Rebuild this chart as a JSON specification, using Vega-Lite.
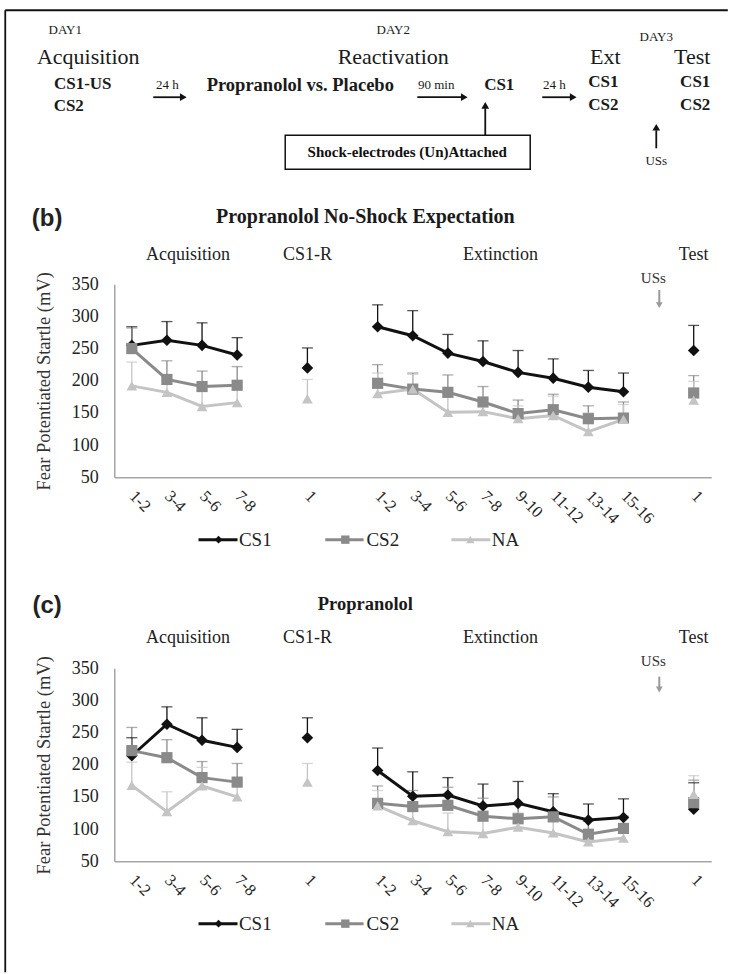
{
  "$schema": "https://vega.github.io/schema/vega-lite/v6.json",
  "background": "white",
  "padding": {"left": 4.25, "top": 9.25, "right": 0, "bottom": 0},
  "bounds": "flush",
  "spacing": 191,
  "config": {
    "font": "Liberation Serif",
    "view": {"stroke": null},
    "axis": {"grid": false, "ticks": false, "domainColor": "#a6a6a6", "domainWidth": 1.5, "labelFont": "Liberation Serif", "labelColor": "#222222", "titleFont": "Liberation Serif", "titleFontWeight": "normal", "titleColor": "#333333"},
    "axisY": {"labelOverlap": false, "labelSeparation": 0}
  },
  "datasets": {
    "fps": [
      {"panel":"b","phase":"Acquisition","cond":"Acquisition 1-2","series":"CS1","mean":255,"upper":284},
      {"panel":"b","phase":"Acquisition","cond":"Acquisition 3-4","series":"CS1","mean":263,"upper":292},
      {"panel":"b","phase":"Acquisition","cond":"Acquisition 5-6","series":"CS1","mean":255,"upper":290},
      {"panel":"b","phase":"Acquisition","cond":"Acquisition 7-8","series":"CS1","mean":240,"upper":267},
      {"panel":"b","phase":"CS1-R","cond":"CS1-R 1","series":"CS1","mean":220,"upper":251},
      {"panel":"b","phase":"Extinction","cond":"Extinction 1-2","series":"CS1","mean":284,"upper":318},
      {"panel":"b","phase":"Extinction","cond":"Extinction 3-4","series":"CS1","mean":270,"upper":309},
      {"panel":"b","phase":"Extinction","cond":"Extinction 5-6","series":"CS1","mean":243,"upper":272},
      {"panel":"b","phase":"Extinction","cond":"Extinction 7-8","series":"CS1","mean":230,"upper":262},
      {"panel":"b","phase":"Extinction","cond":"Extinction 9-10","series":"CS1","mean":213,"upper":247},
      {"panel":"b","phase":"Extinction","cond":"Extinction 11-12","series":"CS1","mean":204,"upper":234},
      {"panel":"b","phase":"Extinction","cond":"Extinction 13-14","series":"CS1","mean":190,"upper":216},
      {"panel":"b","phase":"Extinction","cond":"Extinction 15-16","series":"CS1","mean":183,"upper":212},
      {"panel":"b","phase":"Test","cond":"Test 1","series":"CS1","mean":247,"upper":286},
      {"panel":"b","phase":"Acquisition","cond":"Acquisition 1-2","series":"CS2","mean":250,"upper":282},
      {"panel":"b","phase":"Acquisition","cond":"Acquisition 3-4","series":"CS2","mean":202,"upper":231},
      {"panel":"b","phase":"Acquisition","cond":"Acquisition 5-6","series":"CS2","mean":191,"upper":215},
      {"panel":"b","phase":"Acquisition","cond":"Acquisition 7-8","series":"CS2","mean":193,"upper":222},
      {"panel":"b","phase":"Extinction","cond":"Extinction 1-2","series":"CS2","mean":196,"upper":225},
      {"panel":"b","phase":"Extinction","cond":"Extinction 3-4","series":"CS2","mean":187,"upper":212},
      {"panel":"b","phase":"Extinction","cond":"Extinction 5-6","series":"CS2","mean":182,"upper":209},
      {"panel":"b","phase":"Extinction","cond":"Extinction 7-8","series":"CS2","mean":167,"upper":191},
      {"panel":"b","phase":"Extinction","cond":"Extinction 9-10","series":"CS2","mean":149,"upper":170},
      {"panel":"b","phase":"Extinction","cond":"Extinction 11-12","series":"CS2","mean":155,"upper":179},
      {"panel":"b","phase":"Extinction","cond":"Extinction 13-14","series":"CS2","mean":141,"upper":161},
      {"panel":"b","phase":"Extinction","cond":"Extinction 15-16","series":"CS2","mean":142,"upper":167},
      {"panel":"b","phase":"Test","cond":"Test 1","series":"CS2","mean":181,"upper":208},
      {"panel":"b","phase":"Acquisition","cond":"Acquisition 1-2","series":"NA","mean":192,"upper":229},
      {"panel":"b","phase":"Acquisition","cond":"Acquisition 3-4","series":"NA","mean":182,"upper":200},
      {"panel":"b","phase":"Acquisition","cond":"Acquisition 5-6","series":"NA","mean":160,"upper":185},
      {"panel":"b","phase":"Acquisition","cond":"Acquisition 7-8","series":"NA","mean":166,"upper":190},
      {"panel":"b","phase":"CS1-R","cond":"CS1-R 1","series":"NA","mean":172,"upper":202},
      {"panel":"b","phase":"Extinction","cond":"Extinction 1-2","series":"NA","mean":180,"upper":212},
      {"panel":"b","phase":"Extinction","cond":"Extinction 3-4","series":"NA","mean":187,"upper":210},
      {"panel":"b","phase":"Extinction","cond":"Extinction 5-6","series":"NA","mean":151,"upper":175},
      {"panel":"b","phase":"Extinction","cond":"Extinction 7-8","series":"NA","mean":152,"upper":172},
      {"panel":"b","phase":"Extinction","cond":"Extinction 9-10","series":"NA","mean":141,"upper":161},
      {"panel":"b","phase":"Extinction","cond":"Extinction 11-12","series":"NA","mean":146,"upper":176},
      {"panel":"b","phase":"Extinction","cond":"Extinction 13-14","series":"NA","mean":121,"upper":150},
      {"panel":"b","phase":"Extinction","cond":"Extinction 15-16","series":"NA","mean":140,"upper":163},
      {"panel":"b","phase":"Test","cond":"Test 1","series":"NA","mean":170,"upper":199},
      {"panel":"c","phase":"Acquisition","cond":"Acquisition 1-2","series":"CS1","mean":214,"upper":242},
      {"panel":"c","phase":"Acquisition","cond":"Acquisition 3-4","series":"CS1","mean":263,"upper":290},
      {"panel":"c","phase":"Acquisition","cond":"Acquisition 5-6","series":"CS1","mean":238,"upper":273},
      {"panel":"c","phase":"Acquisition","cond":"Acquisition 7-8","series":"CS1","mean":227,"upper":255},
      {"panel":"c","phase":"CS1-R","cond":"CS1-R 1","series":"CS1","mean":242,"upper":273},
      {"panel":"c","phase":"Extinction","cond":"Extinction 1-2","series":"CS1","mean":191,"upper":226},
      {"panel":"c","phase":"Extinction","cond":"Extinction 3-4","series":"CS1","mean":151,"upper":189},
      {"panel":"c","phase":"Extinction","cond":"Extinction 5-6","series":"CS1","mean":153,"upper":180},
      {"panel":"c","phase":"Extinction","cond":"Extinction 7-8","series":"CS1","mean":136,"upper":170},
      {"panel":"c","phase":"Extinction","cond":"Extinction 9-10","series":"CS1","mean":140,"upper":174},
      {"panel":"c","phase":"Extinction","cond":"Extinction 11-12","series":"CS1","mean":127,"upper":155},
      {"panel":"c","phase":"Extinction","cond":"Extinction 13-14","series":"CS1","mean":114,"upper":139},
      {"panel":"c","phase":"Extinction","cond":"Extinction 15-16","series":"CS1","mean":118,"upper":147},
      {"panel":"c","phase":"Test","cond":"Test 1","series":"CS1","mean":131,"upper":172},
      {"panel":"c","phase":"Acquisition","cond":"Acquisition 1-2","series":"CS2","mean":222,"upper":258},
      {"panel":"c","phase":"Acquisition","cond":"Acquisition 3-4","series":"CS2","mean":211,"upper":239},
      {"panel":"c","phase":"Acquisition","cond":"Acquisition 5-6","series":"CS2","mean":180,"upper":205},
      {"panel":"c","phase":"Acquisition","cond":"Acquisition 7-8","series":"CS2","mean":173,"upper":202},
      {"panel":"c","phase":"Extinction","cond":"Extinction 1-2","series":"CS2","mean":140,"upper":167},
      {"panel":"c","phase":"Extinction","cond":"Extinction 3-4","series":"CS2","mean":135,"upper":160},
      {"panel":"c","phase":"Extinction","cond":"Extinction 5-6","series":"CS2","mean":137,"upper":165},
      {"panel":"c","phase":"Extinction","cond":"Extinction 7-8","series":"CS2","mean":120,"upper":148},
      {"panel":"c","phase":"Extinction","cond":"Extinction 9-10","series":"CS2","mean":116,"upper":140},
      {"panel":"c","phase":"Extinction","cond":"Extinction 11-12","series":"CS2","mean":119,"upper":150},
      {"panel":"c","phase":"Extinction","cond":"Extinction 13-14","series":"CS2","mean":92,"upper":112},
      {"panel":"c","phase":"Extinction","cond":"Extinction 15-16","series":"CS2","mean":101,"upper":120},
      {"panel":"c","phase":"Test","cond":"Test 1","series":"CS2","mean":141,"upper":176},
      {"panel":"c","phase":"Acquisition","cond":"Acquisition 1-2","series":"NA","mean":168,"upper":204},
      {"panel":"c","phase":"Acquisition","cond":"Acquisition 3-4","series":"NA","mean":127,"upper":158},
      {"panel":"c","phase":"Acquisition","cond":"Acquisition 5-6","series":"NA","mean":167,"upper":196},
      {"panel":"c","phase":"Acquisition","cond":"Acquisition 7-8","series":"NA","mean":150,"upper":175},
      {"panel":"c","phase":"CS1-R","cond":"CS1-R 1","series":"NA","mean":173,"upper":202},
      {"panel":"c","phase":"Extinction","cond":"Extinction 1-2","series":"NA","mean":136,"upper":160},
      {"panel":"c","phase":"Extinction","cond":"Extinction 3-4","series":"NA","mean":113,"upper":130},
      {"panel":"c","phase":"Extinction","cond":"Extinction 5-6","series":"NA","mean":96,"upper":125},
      {"panel":"c","phase":"Extinction","cond":"Extinction 7-8","series":"NA","mean":93,"upper":115},
      {"panel":"c","phase":"Extinction","cond":"Extinction 9-10","series":"NA","mean":103,"upper":125},
      {"panel":"c","phase":"Extinction","cond":"Extinction 11-12","series":"NA","mean":94,"upper":115},
      {"panel":"c","phase":"Extinction","cond":"Extinction 13-14","series":"NA","mean":80,"upper":95},
      {"panel":"c","phase":"Extinction","cond":"Extinction 15-16","series":"NA","mean":86,"upper":100},
      {"panel":"c","phase":"Test","cond":"Test 1","series":"NA","mean":154,"upper":183}
    ],
    "diagBig": [
      {"t":"Acquisition","x":11.46,"y":4.89},
      {"t":"Reactivation","x":53.59,"y":4.89},
      {"t":"Ext","x":82.87,"y":4.89},
      {"t":"Test","x":94.89,"y":4.89}
    ],
    "diagSmall": [
      {"t":"DAY1","x":8.29,"y":2.08},
      {"t":"DAY2","x":53.59,"y":2.08},
      {"t":"DAY3","x":89.92,"y":2.81},
      {"t":"24 h","x":22.38,"y":7.8},
      {"t":"90 min","x":59.53,"y":7.8},
      {"t":"24 h","x":75.83,"y":7.8},
      {"t":"USs","x":89.92,"y":15.7}
    ],
    "diagBold": [
      {"t":"CS1-US","x":10.7,"y":7.69},
      {"t":"CS2","x":8.77,"y":9.98},
      {"t":"CS1","x":68.23,"y":7.8},
      {"t":"CS1","x":82.6,"y":7.48},
      {"t":"CS2","x":82.6,"y":9.88},
      {"t":"CS1","x":95.3,"y":7.48},
      {"t":"CS2","x":95.3,"y":9.88}
    ],
    "diagBoldWide": [
      {"t":"Propranolol vs. Placebo","x":40.75,"y":7.8}
    ],
    "diagBox": [
      {"t":"Shock-electrodes (Un)Attached","x":55.52,"y":14.76,"x1":38.67,"x2":72.51,"y1":12.99,"y2":16.53}
    ],
    "diagLines": [
      {"x":0,"x2":99.8,"y":0,"y2":0},
      {"x":0,"x2":0,"y":0,"y2":100},
      {"x":20.44,"x2":24.31,"y":9.04,"y2":9.04},
      {"x":56.91,"x2":62.98,"y":9.04,"y2":9.04},
      {"x":74.17,"x2":78.04,"y":9.04,"y2":9.04},
      {"x":66.3,"x2":66.3,"y":12.99,"y2":10.19},
      {"x":89.92,"x2":89.92,"y":14.35,"y2":12.47}
    ],
    "diagHeadsRight": [
      {"x":24.59,"y":9.04},
      {"x":63.4,"y":9.04},
      {"x":78.45,"y":9.04}
    ],
    "diagHeadsUp": [
      {"x":66.3,"y":9.88},
      {"x":89.92,"y":12.16}
    ]
  },
  "vconcat": [
    {
      "width": 597,
      "height": 83,
      "layer": [
        {
          "data": {"name": "diagLines"},
          "mark": {"type": "rule", "color": "#111111", "strokeWidth": 1.8},
          "encoding": {
            "x": {"field": "x", "type": "quantitative", "scale": {"domain": [0, 100], "range": [-109, 615], "nice": false, "zero": false}, "axis": null},
            "x2": {"field": "x2"},
            "y": {"field": "y", "type": "quantitative", "scale": {"domain": [0, 100], "range": [0, 962], "nice": false, "zero": false}, "axis": null},
            "y2": {"field": "y2"}
          }
        },
        {
          "data": {"name": "diagBox"},
          "mark": {"type": "rect", "fill": null, "fillOpacity": 0, "stroke": "#111111", "strokeWidth": 1.5},
          "encoding": {
            "x": {"field": "x1", "type": "quantitative", "scale": {"domain": [0, 100], "range": [-109, 615], "nice": false, "zero": false}, "axis": null},
            "x2": {"field": "x2"},
            "y": {"field": "y1", "type": "quantitative", "scale": {"domain": [0, 100], "range": [0, 962], "nice": false, "zero": false}, "axis": null},
            "y2": {"field": "y2"}
          }
        },
        {
          "data": {"name": "diagBox"},
          "mark": {"type": "text", "font": "Liberation Serif", "fontWeight": "bold", "fontSize": 15, "color": "#111111", "baseline": "middle"},
          "encoding": {
            "x": {"field": "x", "type": "quantitative", "scale": {"domain": [0, 100], "range": [-109, 615], "nice": false, "zero": false}, "axis": null},
            "y": {"field": "y", "type": "quantitative", "scale": {"domain": [0, 100], "range": [0, 962], "nice": false, "zero": false}, "axis": null},
            "text": {"field": "t"}
          }
        },
        {
          "data": {"name": "diagHeadsRight"},
          "mark": {"type": "point", "shape": "triangle-right", "filled": true, "color": "#111111", "size": 60, "opacity": 1},
          "encoding": {
            "x": {"field": "x", "type": "quantitative", "scale": {"domain": [0, 100], "range": [-109, 615], "nice": false, "zero": false}, "axis": null},
            "y": {"field": "y", "type": "quantitative", "scale": {"domain": [0, 100], "range": [0, 962], "nice": false, "zero": false}, "axis": null}
          }
        },
        {
          "data": {"name": "diagHeadsUp"},
          "mark": {"type": "point", "shape": "triangle-up", "filled": true, "color": "#111111", "size": 60, "opacity": 1},
          "encoding": {
            "x": {"field": "x", "type": "quantitative", "scale": {"domain": [0, 100], "range": [-109, 615], "nice": false, "zero": false}, "axis": null},
            "y": {"field": "y", "type": "quantitative", "scale": {"domain": [0, 100], "range": [0, 962], "nice": false, "zero": false}, "axis": null}
          }
        },
        {
          "data": {"name": "diagBig"},
          "mark": {"type": "text", "font": "Liberation Serif", "fontSize": 22, "color": "#1a1a1a", "baseline": "middle"},
          "encoding": {
            "x": {"field": "x", "type": "quantitative", "scale": {"domain": [0, 100], "range": [-109, 615], "nice": false, "zero": false}, "axis": null},
            "y": {"field": "y", "type": "quantitative", "scale": {"domain": [0, 100], "range": [0, 962], "nice": false, "zero": false}, "axis": null},
            "text": {"field": "t"}
          }
        },
        {
          "data": {"name": "diagSmall"},
          "mark": {"type": "text", "font": "Liberation Serif", "fontSize": 13, "color": "#1a1a1a", "baseline": "middle"},
          "encoding": {
            "x": {"field": "x", "type": "quantitative", "scale": {"domain": [0, 100], "range": [-109, 615], "nice": false, "zero": false}, "axis": null},
            "y": {"field": "y", "type": "quantitative", "scale": {"domain": [0, 100], "range": [0, 962], "nice": false, "zero": false}, "axis": null},
            "text": {"field": "t"}
          }
        },
        {
          "data": {"name": "diagBold"},
          "mark": {"type": "text", "font": "Liberation Serif", "fontWeight": "bold", "fontSize": 17, "color": "#1a1a1a", "baseline": "middle"},
          "encoding": {
            "x": {"field": "x", "type": "quantitative", "scale": {"domain": [0, 100], "range": [-109, 615], "nice": false, "zero": false}, "axis": null},
            "y": {"field": "y", "type": "quantitative", "scale": {"domain": [0, 100], "range": [0, 962], "nice": false, "zero": false}, "axis": null},
            "text": {"field": "t"}
          }
        },
        {
          "data": {"name": "diagBoldWide"},
          "mark": {"type": "text", "font": "Liberation Serif", "fontWeight": "bold", "fontSize": 18.5, "color": "#1a1a1a", "baseline": "middle"},
          "encoding": {
            "x": {"field": "x", "type": "quantitative", "scale": {"domain": [0, 100], "range": [-109, 615], "nice": false, "zero": false}, "axis": null},
            "y": {"field": "y", "type": "quantitative", "scale": {"domain": [0, 100], "range": [0, 962], "nice": false, "zero": false}, "axis": null},
            "text": {"field": "t"}
          }
        }
      ]
    },
    {
      "width": 597,
      "height": 193,
      "layer": [
        {
          "data": {"name": "fps"},
          "transform": [{"filter": "datum.panel === 'b'"}],
          "encoding": {
            "x": {"field": "cond", "type": "ordinal", "sort": ["Acquisition 1-2","Acquisition 3-4","Acquisition 5-6","Acquisition 7-8","gap1","CS1-R 1","gap2","Extinction 1-2","Extinction 3-4","Extinction 5-6","Extinction 7-8","Extinction 9-10","Extinction 11-12","Extinction 13-14","Extinction 15-16","gap3","Test 1"],
              "scale": {"type": "point", "padding": 0.5, "domain": ["Acquisition 1-2","Acquisition 3-4","Acquisition 5-6","Acquisition 7-8","gap1","CS1-R 1","gap2","Extinction 1-2","Extinction 3-4","Extinction 5-6","Extinction 7-8","Extinction 9-10","Extinction 11-12","Extinction 13-14","Extinction 15-16","gap3","Test 1"]},
              "axis": {"values": ["Acquisition 1-2","Acquisition 3-4","Acquisition 5-6","Acquisition 7-8","CS1-R 1","Extinction 1-2","Extinction 3-4","Extinction 5-6","Extinction 7-8","Extinction 9-10","Extinction 11-12","Extinction 13-14","Extinction 15-16","Test 1"], "labelExpr": "split(datum.label, ' ')[1]", "labelAngle": 45, "labelAlign": "left", "labelBaseline": "middle", "labelFontSize": 16.5, "labelPadding": 16, "labelOverlap": false, "title": null}},
            "color": {"field": "series", "type": "nominal", "scale": {"domain": ["CS1","CS2","NA"], "range": ["#111111","#8a8a8a","#c4c4c4"]}, "legend": null}
          },
          "layer": [
            {"mark": {"type": "rule", "strokeWidth": 1.3},
             "encoding": {"y": {"field": "mean", "type": "quantitative", "scale": {"domain": [50, 350], "nice": false, "zero": false}, "axis": {"values": [50,100,150,200,250,300,350], "tickCount": 7, "labelOverlap": false, "title": "Fear Potentiated Startle (mV)", "titleFontSize": 18.5, "titlePadding": 18, "labelFontSize": 18, "labelPadding": 16}}, "y2": {"field": "upper"}}},
            {"mark": {"type": "tick", "thickness": 1.3, "size": 11},
             "encoding": {"y": {"field": "upper", "type": "quantitative", "scale": {"domain": [50, 350], "nice": false, "zero": false}, "axis": {"values": [50,100,150,200,250,300,350], "tickCount": 7, "labelOverlap": false, "title": "Fear Potentiated Startle (mV)", "titleFontSize": 18.5, "titlePadding": 18, "labelFontSize": 18, "labelPadding": 16}}}},
            {"mark": {"type": "line", "strokeWidth": 3},
             "encoding": {"y": {"field": "mean", "type": "quantitative", "scale": {"domain": [50, 350], "nice": false, "zero": false}, "axis": {"values": [50,100,150,200,250,300,350], "tickCount": 7, "labelOverlap": false, "title": "Fear Potentiated Startle (mV)", "titleFontSize": 18.5, "titlePadding": 18, "labelFontSize": 18, "labelPadding": 16}}, "detail": {"field": "phase", "type": "nominal"}}},
            {"mark": {"type": "point", "filled": true, "opacity": 1},
             "encoding": {"y": {"field": "mean", "type": "quantitative", "scale": {"domain": [50, 350], "nice": false, "zero": false}, "axis": {"values": [50,100,150,200,250,300,350], "tickCount": 7, "labelOverlap": false, "title": "Fear Potentiated Startle (mV)", "titleFontSize": 18.5, "titlePadding": 18, "labelFontSize": 18, "labelPadding": 16}},
               "shape": {"field": "series", "type": "nominal", "scale": {"domain": ["CS1","CS2","NA"], "range": ["diamond","square","triangle-up"]}, "legend": null},
               "size": {"field": "series", "type": "nominal", "scale": {"domain": ["CS1","CS2","NA"], "range": [135, 115, 130]}, "legend": null}}}
          ]
        },
        {
          "data": {"values": [{}]},
          "layer": [
            {"mark": {"type": "text", "text": "(b)", "font": "Liberation Sans", "fontWeight": "bold", "fontSize": 24, "color": "#222222", "baseline": "middle"},
             "encoding": {"x": {"datum": -2.41, "type": "quantitative", "scale": {"domain": [-0.5, 16.5], "nice": false, "zero": false}, "axis": null}, "y": {"datum": 451, "type": "quantitative", "scale": {"domain": [50, 350], "nice": false, "zero": false}, "axis": null}}},
            {"mark": {"type": "text", "text": "Propranolol No-Shock Expectation", "fontWeight": "bold", "fontSize": 20, "color": "#1a1a1a", "baseline": "middle"},
             "encoding": {"x": {"datum": 6.65, "type": "quantitative", "scale": {"domain": [-0.5, 16.5], "nice": false, "zero": false}, "axis": null}, "y": {"datum": 454.6, "type": "quantitative", "scale": {"domain": [50, 350], "nice": false, "zero": false}, "axis": null}}},
            {"mark": {"type": "text", "text": "Acquisition", "fontSize": 18, "color": "#222222", "baseline": "middle"},
             "encoding": {"x": {"datum": 1.6, "type": "quantitative", "scale": {"domain": [-0.5, 16.5], "nice": false, "zero": false}, "axis": null}, "y": {"datum": 395, "type": "quantitative", "scale": {"domain": [50, 350], "nice": false, "zero": false}, "axis": null}}},
            {"mark": {"type": "text", "text": "CS1-R", "fontSize": 18, "color": "#222222", "baseline": "middle"},
             "encoding": {"x": {"datum": 5, "type": "quantitative", "scale": {"domain": [-0.5, 16.5], "nice": false, "zero": false}, "axis": null}, "y": {"datum": 395, "type": "quantitative", "scale": {"domain": [50, 350], "nice": false, "zero": false}, "axis": null}}},
            {"mark": {"type": "text", "text": "Extinction", "fontSize": 18, "color": "#222222", "baseline": "middle"},
             "encoding": {"x": {"datum": 10.5, "type": "quantitative", "scale": {"domain": [-0.5, 16.5], "nice": false, "zero": false}, "axis": null}, "y": {"datum": 395, "type": "quantitative", "scale": {"domain": [50, 350], "nice": false, "zero": false}, "axis": null}}},
            {"mark": {"type": "text", "text": "Test", "fontSize": 18, "color": "#222222", "baseline": "middle"},
             "encoding": {"x": {"datum": 16, "type": "quantitative", "scale": {"domain": [-0.5, 16.5], "nice": false, "zero": false}, "axis": null}, "y": {"datum": 395, "type": "quantitative", "scale": {"domain": [50, 350], "nice": false, "zero": false}, "axis": null}}},
            {"mark": {"type": "text", "text": "USs", "fontSize": 15, "color": "#333333", "baseline": "middle"},
             "encoding": {"x": {"datum": 14.85, "type": "quantitative", "scale": {"domain": [-0.5, 16.5], "nice": false, "zero": false}, "axis": null}, "y": {"datum": 359, "type": "quantitative", "scale": {"domain": [50, 350], "nice": false, "zero": false}, "axis": null}}},
            {"mark": {"type": "rule", "color": "#9a9a9a", "strokeWidth": 2},
             "encoding": {"x": {"datum": 15.02, "type": "quantitative", "scale": {"domain": [-0.5, 16.5], "nice": false, "zero": false}, "axis": null}, "y": {"datum": 341, "type": "quantitative", "scale": {"domain": [50, 350], "nice": false, "zero": false}, "axis": null}, "y2": {"datum": 320}}},
            {"mark": {"type": "point", "shape": "triangle-down", "filled": true, "color": "#9a9a9a", "size": 45, "opacity": 1},
             "encoding": {"x": {"datum": 15.02, "type": "quantitative", "scale": {"domain": [-0.5, 16.5], "nice": false, "zero": false}, "axis": null}, "y": {"datum": 317.5, "type": "quantitative", "scale": {"domain": [50, 350], "nice": false, "zero": false}, "axis": null}}},
            {"mark": {"type": "rule", "color": "#111111", "strokeWidth": 3},
             "encoding": {"x": {"datum": 1.9, "type": "quantitative", "scale": {"domain": [-0.5, 16.5], "nice": false, "zero": false}, "axis": null}, "x2": {"datum": 3.01}, "y": {"datum": -47, "type": "quantitative", "scale": {"domain": [50, 350], "nice": false, "zero": false}, "axis": null}}},
            {"mark": {"type": "point", "shape": "diamond", "filled": true, "color": "#111111", "size": 60, "opacity": 1},
             "encoding": {"x": {"datum": 2.47, "type": "quantitative", "scale": {"domain": [-0.5, 16.5], "nice": false, "zero": false}, "axis": null}, "y": {"datum": -47, "type": "quantitative", "scale": {"domain": [50, 350], "nice": false, "zero": false}, "axis": null}}},
            {"mark": {"type": "text", "text": "CS1", "fontSize": 19, "color": "#222222", "align": "left", "baseline": "middle"},
             "encoding": {"x": {"datum": 3.05, "type": "quantitative", "scale": {"domain": [-0.5, 16.5], "nice": false, "zero": false}, "axis": null}, "y": {"datum": -47, "type": "quantitative", "scale": {"domain": [50, 350], "nice": false, "zero": false}, "axis": null}}},
            {"mark": {"type": "rule", "color": "#8a8a8a", "strokeWidth": 3},
             "encoding": {"x": {"datum": 5.51, "type": "quantitative", "scale": {"domain": [-0.5, 16.5], "nice": false, "zero": false}, "axis": null}, "x2": {"datum": 6.6}, "y": {"datum": -47, "type": "quantitative", "scale": {"domain": [50, 350], "nice": false, "zero": false}, "axis": null}}},
            {"mark": {"type": "point", "shape": "square", "filled": true, "color": "#8a8a8a", "size": 70, "opacity": 1},
             "encoding": {"x": {"datum": 6.08, "type": "quantitative", "scale": {"domain": [-0.5, 16.5], "nice": false, "zero": false}, "axis": null}, "y": {"datum": -47, "type": "quantitative", "scale": {"domain": [50, 350], "nice": false, "zero": false}, "axis": null}}},
            {"mark": {"type": "text", "text": "CS2", "fontSize": 19, "color": "#222222", "align": "left", "baseline": "middle"},
             "encoding": {"x": {"datum": 6.68, "type": "quantitative", "scale": {"domain": [-0.5, 16.5], "nice": false, "zero": false}, "axis": null}, "y": {"datum": -47, "type": "quantitative", "scale": {"domain": [50, 350], "nice": false, "zero": false}, "axis": null}}},
            {"mark": {"type": "rule", "color": "#c4c4c4", "strokeWidth": 3},
             "encoding": {"x": {"datum": 9.1, "type": "quantitative", "scale": {"domain": [-0.5, 16.5], "nice": false, "zero": false}, "axis": null}, "x2": {"datum": 10.21}, "y": {"datum": -47, "type": "quantitative", "scale": {"domain": [50, 350], "nice": false, "zero": false}, "axis": null}}},
            {"mark": {"type": "point", "shape": "triangle-up", "filled": true, "color": "#c4c4c4", "size": 70, "opacity": 1},
             "encoding": {"x": {"datum": 9.64, "type": "quantitative", "scale": {"domain": [-0.5, 16.5], "nice": false, "zero": false}, "axis": null}, "y": {"datum": -47, "type": "quantitative", "scale": {"domain": [50, 350], "nice": false, "zero": false}, "axis": null}}},
            {"mark": {"type": "text", "text": "NA", "fontSize": 19, "color": "#222222", "align": "left", "baseline": "middle"},
             "encoding": {"x": {"datum": 10.25, "type": "quantitative", "scale": {"domain": [-0.5, 16.5], "nice": false, "zero": false}, "axis": null}, "y": {"datum": -47, "type": "quantitative", "scale": {"domain": [50, 350], "nice": false, "zero": false}, "axis": null}}}
          ]
        }
      ],
      "resolve": {"scale": {"x": "independent"}, "axis": {"x": "independent", "y": "independent"}}
    },
    {
      "width": 597,
      "height": 193,
      "layer": [
        {
          "data": {"name": "fps"},
          "transform": [{"filter": "datum.panel === 'c'"}],
          "encoding": {
            "x": {"field": "cond", "type": "ordinal", "sort": ["Acquisition 1-2","Acquisition 3-4","Acquisition 5-6","Acquisition 7-8","gap1","CS1-R 1","gap2","Extinction 1-2","Extinction 3-4","Extinction 5-6","Extinction 7-8","Extinction 9-10","Extinction 11-12","Extinction 13-14","Extinction 15-16","gap3","Test 1"],
              "scale": {"type": "point", "padding": 0.5, "domain": ["Acquisition 1-2","Acquisition 3-4","Acquisition 5-6","Acquisition 7-8","gap1","CS1-R 1","gap2","Extinction 1-2","Extinction 3-4","Extinction 5-6","Extinction 7-8","Extinction 9-10","Extinction 11-12","Extinction 13-14","Extinction 15-16","gap3","Test 1"]},
              "axis": {"values": ["Acquisition 1-2","Acquisition 3-4","Acquisition 5-6","Acquisition 7-8","CS1-R 1","Extinction 1-2","Extinction 3-4","Extinction 5-6","Extinction 7-8","Extinction 9-10","Extinction 11-12","Extinction 13-14","Extinction 15-16","Test 1"], "labelExpr": "split(datum.label, ' ')[1]", "labelAngle": 45, "labelAlign": "left", "labelBaseline": "middle", "labelFontSize": 16.5, "labelPadding": 16, "labelOverlap": false, "title": null}},
            "color": {"field": "series", "type": "nominal", "scale": {"domain": ["CS1","CS2","NA"], "range": ["#111111","#8a8a8a","#c4c4c4"]}, "legend": null}
          },
          "layer": [
            {"mark": {"type": "rule", "strokeWidth": 1.3},
             "encoding": {"y": {"field": "mean", "type": "quantitative", "scale": {"domain": [50, 350], "nice": false, "zero": false}, "axis": {"values": [50,100,150,200,250,300,350], "tickCount": 7, "labelOverlap": false, "title": "Fear Potentiated Startle (mV)", "titleFontSize": 18.5, "titlePadding": 18, "labelFontSize": 18, "labelPadding": 16}}, "y2": {"field": "upper"}}},
            {"mark": {"type": "tick", "thickness": 1.3, "size": 11},
             "encoding": {"y": {"field": "upper", "type": "quantitative", "scale": {"domain": [50, 350], "nice": false, "zero": false}, "axis": {"values": [50,100,150,200,250,300,350], "tickCount": 7, "labelOverlap": false, "title": "Fear Potentiated Startle (mV)", "titleFontSize": 18.5, "titlePadding": 18, "labelFontSize": 18, "labelPadding": 16}}}},
            {"mark": {"type": "line", "strokeWidth": 3},
             "encoding": {"y": {"field": "mean", "type": "quantitative", "scale": {"domain": [50, 350], "nice": false, "zero": false}, "axis": {"values": [50,100,150,200,250,300,350], "tickCount": 7, "labelOverlap": false, "title": "Fear Potentiated Startle (mV)", "titleFontSize": 18.5, "titlePadding": 18, "labelFontSize": 18, "labelPadding": 16}}, "detail": {"field": "phase", "type": "nominal"}}},
            {"mark": {"type": "point", "filled": true, "opacity": 1},
             "encoding": {"y": {"field": "mean", "type": "quantitative", "scale": {"domain": [50, 350], "nice": false, "zero": false}, "axis": {"values": [50,100,150,200,250,300,350], "tickCount": 7, "labelOverlap": false, "title": "Fear Potentiated Startle (mV)", "titleFontSize": 18.5, "titlePadding": 18, "labelFontSize": 18, "labelPadding": 16}},
               "shape": {"field": "series", "type": "nominal", "scale": {"domain": ["CS1","CS2","NA"], "range": ["diamond","square","triangle-up"]}, "legend": null},
               "size": {"field": "series", "type": "nominal", "scale": {"domain": ["CS1","CS2","NA"], "range": [135, 115, 130]}, "legend": null}}}
          ]
        },
        {
          "data": {"values": [{}]},
          "layer": [
            {"mark": {"type": "text", "text": "(c)", "font": "Liberation Sans", "fontWeight": "bold", "fontSize": 24, "color": "#222222", "baseline": "middle"},
             "encoding": {"x": {"datum": -2.41, "type": "quantitative", "scale": {"domain": [-0.5, 16.5], "nice": false, "zero": false}, "axis": null}, "y": {"datum": 447, "type": "quantitative", "scale": {"domain": [50, 350], "nice": false, "zero": false}, "axis": null}}},
            {"mark": {"type": "text", "text": "Propranolol", "fontWeight": "bold", "fontSize": 18.5, "color": "#1a1a1a", "baseline": "middle"},
             "encoding": {"x": {"datum": 6.65, "type": "quantitative", "scale": {"domain": [-0.5, 16.5], "nice": false, "zero": false}, "axis": null}, "y": {"datum": 450.6, "type": "quantitative", "scale": {"domain": [50, 350], "nice": false, "zero": false}, "axis": null}}},
            {"mark": {"type": "text", "text": "Acquisition", "fontSize": 18, "color": "#222222", "baseline": "middle"},
             "encoding": {"x": {"datum": 1.6, "type": "quantitative", "scale": {"domain": [-0.5, 16.5], "nice": false, "zero": false}, "axis": null}, "y": {"datum": 397, "type": "quantitative", "scale": {"domain": [50, 350], "nice": false, "zero": false}, "axis": null}}},
            {"mark": {"type": "text", "text": "CS1-R", "fontSize": 18, "color": "#222222", "baseline": "middle"},
             "encoding": {"x": {"datum": 5, "type": "quantitative", "scale": {"domain": [-0.5, 16.5], "nice": false, "zero": false}, "axis": null}, "y": {"datum": 397, "type": "quantitative", "scale": {"domain": [50, 350], "nice": false, "zero": false}, "axis": null}}},
            {"mark": {"type": "text", "text": "Extinction", "fontSize": 18, "color": "#222222", "baseline": "middle"},
             "encoding": {"x": {"datum": 10.5, "type": "quantitative", "scale": {"domain": [-0.5, 16.5], "nice": false, "zero": false}, "axis": null}, "y": {"datum": 397, "type": "quantitative", "scale": {"domain": [50, 350], "nice": false, "zero": false}, "axis": null}}},
            {"mark": {"type": "text", "text": "Test", "fontSize": 18, "color": "#222222", "baseline": "middle"},
             "encoding": {"x": {"datum": 16, "type": "quantitative", "scale": {"domain": [-0.5, 16.5], "nice": false, "zero": false}, "axis": null}, "y": {"datum": 397, "type": "quantitative", "scale": {"domain": [50, 350], "nice": false, "zero": false}, "axis": null}}},
            {"mark": {"type": "text", "text": "USs", "fontSize": 15, "color": "#333333", "baseline": "middle"},
             "encoding": {"x": {"datum": 14.85, "type": "quantitative", "scale": {"domain": [-0.5, 16.5], "nice": false, "zero": false}, "axis": null}, "y": {"datum": 361, "type": "quantitative", "scale": {"domain": [50, 350], "nice": false, "zero": false}, "axis": null}}},
            {"mark": {"type": "rule", "color": "#9a9a9a", "strokeWidth": 2},
             "encoding": {"x": {"datum": 15.02, "type": "quantitative", "scale": {"domain": [-0.5, 16.5], "nice": false, "zero": false}, "axis": null}, "y": {"datum": 337, "type": "quantitative", "scale": {"domain": [50, 350], "nice": false, "zero": false}, "axis": null}, "y2": {"datum": 320}}},
            {"mark": {"type": "point", "shape": "triangle-down", "filled": true, "color": "#9a9a9a", "size": 45, "opacity": 1},
             "encoding": {"x": {"datum": 15.02, "type": "quantitative", "scale": {"domain": [-0.5, 16.5], "nice": false, "zero": false}, "axis": null}, "y": {"datum": 317, "type": "quantitative", "scale": {"domain": [50, 350], "nice": false, "zero": false}, "axis": null}}},
            {"mark": {"type": "rule", "color": "#111111", "strokeWidth": 3},
             "encoding": {"x": {"datum": 1.9, "type": "quantitative", "scale": {"domain": [-0.5, 16.5], "nice": false, "zero": false}, "axis": null}, "x2": {"datum": 3.01}, "y": {"datum": -47, "type": "quantitative", "scale": {"domain": [50, 350], "nice": false, "zero": false}, "axis": null}}},
            {"mark": {"type": "point", "shape": "diamond", "filled": true, "color": "#111111", "size": 60, "opacity": 1},
             "encoding": {"x": {"datum": 2.47, "type": "quantitative", "scale": {"domain": [-0.5, 16.5], "nice": false, "zero": false}, "axis": null}, "y": {"datum": -47, "type": "quantitative", "scale": {"domain": [50, 350], "nice": false, "zero": false}, "axis": null}}},
            {"mark": {"type": "text", "text": "CS1", "fontSize": 19, "color": "#222222", "align": "left", "baseline": "middle"},
             "encoding": {"x": {"datum": 3.05, "type": "quantitative", "scale": {"domain": [-0.5, 16.5], "nice": false, "zero": false}, "axis": null}, "y": {"datum": -47, "type": "quantitative", "scale": {"domain": [50, 350], "nice": false, "zero": false}, "axis": null}}},
            {"mark": {"type": "rule", "color": "#8a8a8a", "strokeWidth": 3},
             "encoding": {"x": {"datum": 5.51, "type": "quantitative", "scale": {"domain": [-0.5, 16.5], "nice": false, "zero": false}, "axis": null}, "x2": {"datum": 6.6}, "y": {"datum": -47, "type": "quantitative", "scale": {"domain": [50, 350], "nice": false, "zero": false}, "axis": null}}},
            {"mark": {"type": "point", "shape": "square", "filled": true, "color": "#8a8a8a", "size": 70, "opacity": 1},
             "encoding": {"x": {"datum": 6.08, "type": "quantitative", "scale": {"domain": [-0.5, 16.5], "nice": false, "zero": false}, "axis": null}, "y": {"datum": -47, "type": "quantitative", "scale": {"domain": [50, 350], "nice": false, "zero": false}, "axis": null}}},
            {"mark": {"type": "text", "text": "CS2", "fontSize": 19, "color": "#222222", "align": "left", "baseline": "middle"},
             "encoding": {"x": {"datum": 6.68, "type": "quantitative", "scale": {"domain": [-0.5, 16.5], "nice": false, "zero": false}, "axis": null}, "y": {"datum": -47, "type": "quantitative", "scale": {"domain": [50, 350], "nice": false, "zero": false}, "axis": null}}},
            {"mark": {"type": "rule", "color": "#c4c4c4", "strokeWidth": 3},
             "encoding": {"x": {"datum": 9.1, "type": "quantitative", "scale": {"domain": [-0.5, 16.5], "nice": false, "zero": false}, "axis": null}, "x2": {"datum": 10.21}, "y": {"datum": -47, "type": "quantitative", "scale": {"domain": [50, 350], "nice": false, "zero": false}, "axis": null}}},
            {"mark": {"type": "point", "shape": "triangle-up", "filled": true, "color": "#c4c4c4", "size": 70, "opacity": 1},
             "encoding": {"x": {"datum": 9.64, "type": "quantitative", "scale": {"domain": [-0.5, 16.5], "nice": false, "zero": false}, "axis": null}, "y": {"datum": -47, "type": "quantitative", "scale": {"domain": [50, 350], "nice": false, "zero": false}, "axis": null}}},
            {"mark": {"type": "text", "text": "NA", "fontSize": 19, "color": "#222222", "align": "left", "baseline": "middle"},
             "encoding": {"x": {"datum": 10.25, "type": "quantitative", "scale": {"domain": [-0.5, 16.5], "nice": false, "zero": false}, "axis": null}, "y": {"datum": -47, "type": "quantitative", "scale": {"domain": [50, 350], "nice": false, "zero": false}, "axis": null}}}
          ]
        }
      ],
      "resolve": {"scale": {"x": "independent"}, "axis": {"x": "independent", "y": "independent"}}
    }
  ]
}
